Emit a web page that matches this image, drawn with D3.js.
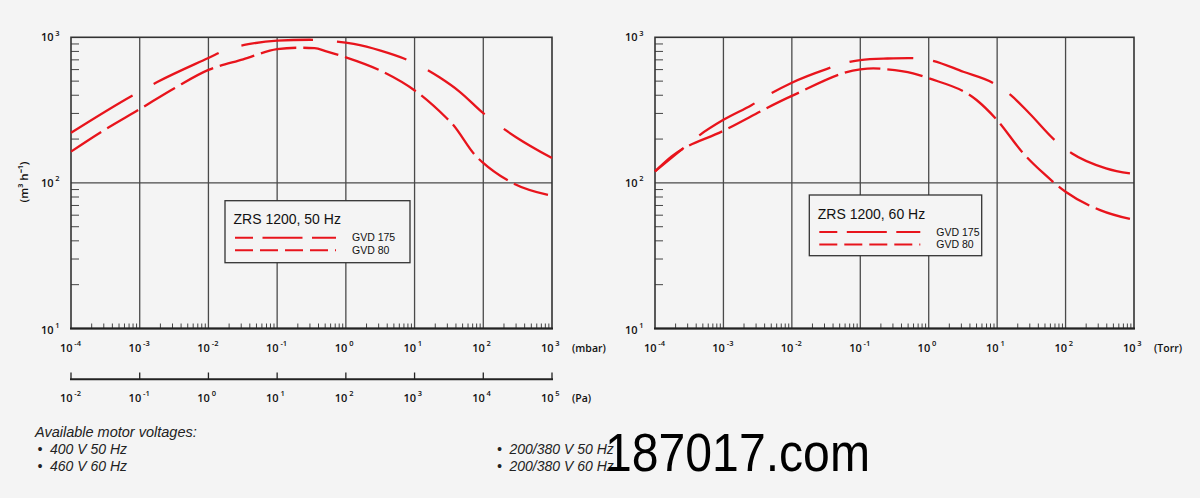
<!DOCTYPE html>
<html><head><meta charset="utf-8">
<script src="https://cdn.jsdelivr.net/npm/d3@7"></script>
<style>html,body{margin:0;padding:0;background:#f4f4f4;} svg{display:block}</style>
</head><body><svg id="c" width="1200" height="498"></svg>
<script>
// ---- data ----
const mbarExponents = [-4, -3, -2, -1, 0, 1, 2, 3];
const paExponents = [-2, -1, 0, 1, 2, 3, 4, 5];
const torrExponents = [-4, -3, -2, -1, 0, 1, 2, 3];
const flowExponents = [1, 2, 3];

// pumping speed (m³/h) vs pressure, 50 Hz (mbar)
const gvd175_50Hz = [[1e-4,221],[8.1e-4,402],[1.8e-3,493],[1e-2,721],[1.9e-2,828],[4e-2,900],[0.1,948],[0.3,962],[0.55,948],[1.3,900],[3.2,809],[10,664],[23,531],[45,424],[100,301],[160,253],[300,206],[1000,148]];
const gvd80_50Hz = [[1e-4,164],[2.8e-4,225],[1e-3,321],[3.2e-3,447],[1e-2,597],[3.2e-2,706],[0.1,828],[0.2,848],[0.35,842],[0.52,800],[1,729],[3.2,590],[11.4,413],[29.4,278],[34.7,257],[80,151],[95,140],[245,102],[1000,81.5]];
// 60 Hz (Torr)
const gvd175_60Hz = [[1e-4,120],[2.75e-4,177],[4.5e-4,213],[1e-3,271],[2.6e-3,343],[4.8e-3,408],[1e-2,488],[3.2e-2,605],[6.3e-2,670],[0.1,698],[0.25,715],[0.5,720],[1,700],[3.2,580],[9.2,479],[15.7,402],[29.5,301],[71,195],[123,160],[390,126],[1000,115]];
const gvd80_60Hz = [[1e-4,120],[1.75e-4,152],[1e-3,228],[1e-2,396],[0.1,603],[0.155,612],[0.23,605],[0.59,566],[1,523],[5,371],[10,270],[24,160],[47,117],[100,87],[320,65],[1000,55.7]];

const seriesNames = ["GVD 175", "GVD 80"];
const chartTitles = ["ZRS 1200, 50 Hz", "ZRS 1200, 60 Hz"];
const yTitle = "(m³ h⁻¹)";
const voltageTitle = "Available motor voltages:";
const voltagesLeft = ["400 V 50 Hz", "460 V 60 Hz"];
const voltagesRight = ["200/380 V 50 Hz", "200/380 V 60 Hz"];
const watermark = "187017.com";

// ---- drawing ----
const svg = d3.select("#c");
svg.append("rect").attr("width",1200).attr("height",498).attr("fill","#f4f4f4");
const RED = "#e8141c";
const FONT = "'Liberation Sans', Arial, sans-serif";
const AXF = "'Open Sans', 'Liberation Sans', sans-serif";

function expLabel(g, x, y, exp, anchorEndX) {
  g.append("text").attr("x", anchorEndX).attr("y", y).attr("text-anchor","end")
    .attr("font-family",AXF).attr("font-weight",600).attr("font-size",11).attr("fill","#111").text("10");
  g.append("text").attr("x", anchorEndX + 1.8).attr("y", y - 5.5).attr("text-anchor","start")
    .attr("font-family",AXF).attr("font-weight",600).attr("font-size",7.5).attr("fill","#111").text(String(exp));
}

function drawChart(cfg) {
  const g = svg.append("g");
  const x = d3.scaleLog().domain([1e-4, 1e3]).range([cfg.x0, cfg.x1]);
  const y = d3.scaleLog().domain([10, 1000]).range([328.5, 37.3]);
  const [yb, yt] = y.range();

  // vertical decade gridlines
  g.selectAll(".vg").data(cfg.xExps.slice(1, -1)).join("line")
    .attr("x1", d => x(Math.pow(10,d))).attr("x2", d => x(Math.pow(10,d)))
    .attr("y1", yt).attr("y2", yb).attr("stroke","#4a4a4a").attr("stroke-width",1.3);
  // horizontal gridline 10^2
  g.append("line").attr("x1",cfg.x0).attr("x2",cfg.x1).attr("y1",y(100)).attr("y2",y(100))
    .attr("stroke","#4a4a4a").attr("stroke-width",1.3);

  // minor ticks x (bottom, inward)
  const xMinor = [];
  cfg.xExps.slice(0,-1).forEach(e => { for (let k=2;k<=9;k++) xMinor.push(k*Math.pow(10,e)); });
  g.selectAll(".xm").data(xMinor).join("line")
    .attr("x1", d=>x(d)).attr("x2", d=>x(d)).attr("y1", yb).attr("y2", yb-5)
    .attr("stroke","#444").attr("stroke-width",1);
  // minor ticks y (left, inward)
  const yMinor = [];
  [1,2].forEach(e => { for (let k=2;k<=9;k++) yMinor.push(k*Math.pow(10,e)); });
  g.selectAll(".ym").data(yMinor).join("line")
    .attr("x1", cfg.x0).attr("x2", cfg.x0+8).attr("y1", d=>y(d)).attr("y2", d=>y(d))
    .attr("stroke","#444").attr("stroke-width",1);

  // frame
  g.append("rect").attr("x",cfg.x0).attr("y",yt).attr("width",cfg.x1-cfg.x0).attr("height",yb-yt)
    .attr("fill","none").attr("stroke","#333").attr("stroke-width",1.6);
  g.append("line").attr("x1",cfg.x0-1).attr("x2",cfg.x1+1).attr("y1",yb).attr("y2",yb)
    .attr("stroke","#222").attr("stroke-width",2.2);

  // curves
  const line = d3.line().x(d=>x(d[0])).y(d=>y(d[1])).curve(d3.curveMonotoneX);
  g.append("path").datum(cfg.s175).attr("d",line).attr("fill","none").attr("stroke",RED)
    .attr("stroke-width",2.3).attr("stroke-dasharray",cfg.dash175).attr("stroke-dashoffset",cfg.off175);
  g.append("path").datum(cfg.s80).attr("d",line).attr("fill","none").attr("stroke",RED)
    .attr("stroke-width",2.3).attr("stroke-dasharray","36,7");

  // y labels
  flowExponents.forEach(e => {
    const yy = y(Math.pow(10,e)) + (e===1 ? 5 : 4);
    expLabel(g, 0, yy, e, cfg.x0 - 17.5);
  });
  // x labels
  cfg.xExps.forEach(e => expLabel(g, 0, 351.7, e, x(Math.pow(10,e)) + 1.5));
  g.append("text").attr("x", cfg.x1 + 20).attr("y", 351.7).attr("font-family",AXF).attr("font-weight",600)
    .attr("font-size",10.5).attr("fill","#111").text(cfg.unit);

  // legend
  const L = cfg.legend;
  g.append("rect").attr("x",L.x).attr("y",L.y).attr("width",L.w).attr("height",L.h)
    .attr("fill","#f4f4f4").attr("stroke","#333").attr("stroke-width",1.3);
  g.append("text").attr("x",L.x+8.5).attr("y",L.y+23.5).attr("font-family",FONT)
    .attr("font-size",14).attr("fill","#111").text(cfg.title);
  [0,1].forEach(i => {
    const ly = L.y + 37 + i*12.6;
    g.append("line").attr("x1",L.x+10).attr("x2",L.x+111).attr("y1",ly).attr("y2",ly)
      .attr("stroke",RED).attr("stroke-width",2)
      .attr("stroke-dasharray", i===0 ? "40,9.5" : "18,7").attr("stroke-dashoffset", i===0 ? 22 : 0);
    g.append("text").attr("x",L.x+127).attr("y",ly+3.6).attr("font-family",FONT)
      .attr("font-size",10.5).attr("fill","#111").text(seriesNames[i]);
  });
  return {g, x};
}

const left = drawChart({x0:71, x1:552, xExps: mbarExponents, unit:"(mbar)", s175: gvd175_50Hz, s80: gvd80_50Hz,
  dash175:"72,24", off175:0, title: chartTitles[0], legend:{x:225, y:200.7, w:185, h:62}});
const right = drawChart({x0:655, x1:1134, xExps: torrExponents, unit:"(Torr)", s175: gvd175_60Hz, s80: gvd80_60Hz,
  dash175:"64,20", off175:27, title: chartTitles[1], legend:{x:809.3, y:195, w:172.4, h:60.7}});

// y title (left only)
svg.append("text").attr("transform","translate(28,182) rotate(-90)").attr("text-anchor","middle")
  .attr("font-family",AXF).attr("font-weight",600).attr("font-size",11.5).attr("fill","#111").text(yTitle);

// Pa axis
const xPa = d3.scaleLog().domain([1e-2, 1e5]).range([71, 552]);
const pa = svg.append("g");
pa.append("line").attr("x1",70).attr("x2",553).attr("y1",379.3).attr("y2",379.3).attr("stroke","#222").attr("stroke-width",2);
pa.selectAll(".pt").data(paExponents).join("line")
  .attr("x1", d=>xPa(Math.pow(10,d))).attr("x2", d=>xPa(Math.pow(10,d)))
  .attr("y1",379.3).attr("y2",372.5).attr("stroke","#222").attr("stroke-width",1.3);
paExponents.forEach(e => expLabel(pa, 0, 401.7, e, xPa(Math.pow(10,e)) + 1.5));
pa.append("text").attr("x",572).attr("y",401.7).attr("font-family",AXF).attr("font-weight",600)
  .attr("font-size",10.5).attr("fill","#111").text("(Pa)");

// bottom notes
const notes = svg.append("g").attr("font-family",FONT).attr("font-style","italic").attr("fill","#222");
notes.append("text").attr("x",35).attr("y",436.7).attr("font-size",14.5).text(voltageTitle);
voltagesLeft.forEach((t,i) => {
  notes.append("text").attr("x",37.5).attr("y",454.3+i*16.7).attr("font-size",14).text("•");
  notes.append("text").attr("x",50).attr("y",454.3+i*16.7).attr("font-size",14).text(t);
});
voltagesRight.forEach((t,i) => {
  notes.append("text").attr("x",497).attr("y",454.3+i*16.7).attr("font-size",14).text("•");
  notes.append("text").attr("x",509.5).attr("y",454.3+i*16.7).attr("font-size",14).text(t);
});
// watermark
svg.append("text").attr("x",605).attr("y",471).attr("font-family",FONT).attr("font-size",54)
  .attr("fill","#000").attr("textLength",265).attr("lengthAdjust","spacingAndGlyphs").text(watermark);
</script></body></html>
